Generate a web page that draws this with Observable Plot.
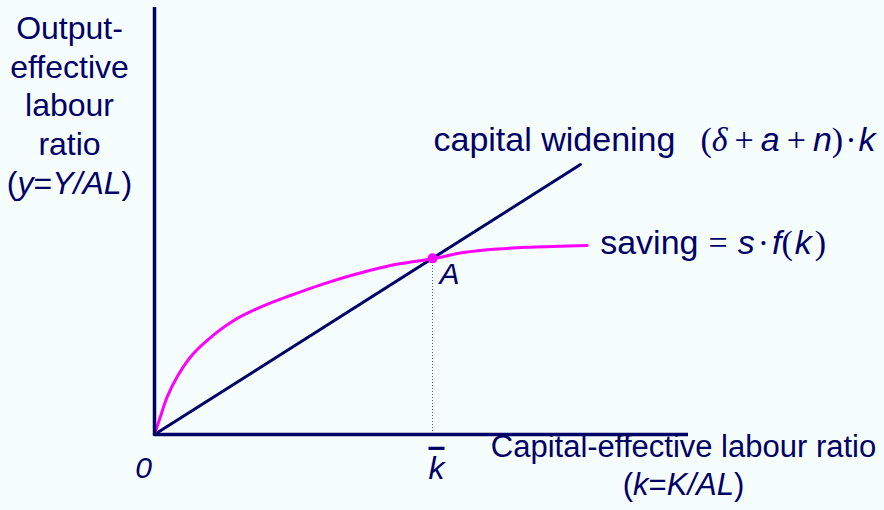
<!DOCTYPE html>
<html>
<head>
<meta charset="utf-8">
<script src="https://cdn.jsdelivr.net/npm/d3@7"></script>
<script src="https://cdn.jsdelivr.net/npm/@observablehq/plot@0.6"></script>
<style>
  html, body { margin: 0; padding: 0; background: #f6fdfd; }
  #chart { width: 884px; height: 510px; }
</style>
</head>
<body>
<div id="chart"></div>
<script>
// ---- data (k = capital per effective worker, y = output per effective worker)
const kDomain = [0, 10];
const yDomain = [0, 10];

// saving curve s·f(k)
const savingK = [0, 0.112, 0.238, 0.425, 0.674, 0.987, 1.485, 1.985, 2.547, 3.170, 3.796, 4.419, 5.200, 5.787, 6.418, 7.041, 8.103];
const savingY = [0, 0.420, 0.880, 1.350, 1.815, 2.205, 2.670, 2.981, 3.255, 3.529, 3.763, 3.958, 4.115, 4.262, 4.345, 4.386, 4.426];

// capital widening line (δ+a+n)·k
const widenK = [0, 7.977];
const widenY = [0, 6.323];

// steady state A
const kBar = 5.206;
const yA = 4.125;

// labels
const yTitleLines = ["Output-", "effective", "labour", "ratio", "(y=Y/AL)"];
const xTitleLine1 = "Capital-effective labour ratio";
const xTitleLine2 = "(k=K/AL)";
const widenLabel = "capital widening";
const widenMath = "(δ+a+n)·k";
const savingLabel = "saving=s·f(k)";
const pointLabel = "A";
const originLabel = "0";
const kBarLabel = "k";

const navy = "#000066";
const magenta = "#ff00ff";
const sans = "'Liberation Sans', Arial, sans-serif";
const serif = "'Liberation Serif', 'Times New Roman', serif";

const savingData = savingK.map((k, i) => ({k, y: savingY[i]}));
const widenData = widenK.map((k, i) => ({k, y: widenY[i]}));
const pointA = [{k: kBar, y: yA}];

const chart = Plot.plot({
  width: 884,
  height: 510,
  marginLeft: 154,
  marginRight: 196,
  marginTop: 7,
  marginBottom: 76,
  x: {domain: kDomain, axis: null},
  y: {domain: yDomain, axis: null},
  style: {background: "#f6fdfd", fontFamily: sans, color: navy, overflow: "visible"},
  marks: [
    Plot.ruleX([kBar], {y1: 0, y2: yA, stroke: "#5a5ab0", strokeWidth: 1, strokeDasharray: "1,2"}),
    Plot.line(widenData, {x: "k", y: "y", stroke: navy, strokeWidth: 3}),
    Plot.line(savingData, {x: "k", y: "y", stroke: magenta, strokeWidth: 3, curve: "catmull-rom"}),
    Plot.ruleY([0], {stroke: navy, strokeWidth: 3.5}),
    Plot.ruleX([0], {stroke: navy, strokeWidth: 3.5, y1: -0.04, y2: yDomain[1]}),
    Plot.dot(pointA, {x: "k", y: "y", r: 5, fill: magenta}),
    // annotations
    Plot.text([widenData[1]], {x: "k", y: "y", text: () => widenLabel, textAnchor: "start", dx: -147, dy: -24, fontSize: 34, fill: navy}),
    Plot.text([widenData[1]], {x: "k", y: "y", text: () => widenMath, textAnchor: "start", dx: 120, dy: -24, fontSize: 34, fill: navy}),
    Plot.text([savingData[savingData.length - 1]], {x: "k", y: "y", text: () => savingLabel, textAnchor: "start", dx: 13, dy: -2, fontSize: 34, fill: navy}),
    Plot.text(pointA, {x: "k", y: "y", text: () => pointLabel, textAnchor: "start", dx: 7, dy: 16, fontSize: 30, fontStyle: "italic", fill: navy}),
    Plot.text([{k: 0, y: 0}], {x: "k", y: "y", text: () => originLabel, dx: -11, dy: 34, fontSize: 30, fontStyle: "italic", fill: navy}),
    Plot.text([{k: kBar, y: 0}], {x: "k", y: "y", text: () => kBarLabel, dx: 4, dy: 34, fontSize: 32, fontStyle: "italic", fill: navy}),
    Plot.text([xTitleLine1], {frameAnchor: "bottom-right", textAnchor: "middle", dx: -5, dy: 22, fontSize: 31, fill: navy}),
    Plot.text([xTitleLine2], {frameAnchor: "bottom-right", textAnchor: "middle", dx: -5, dy: 60, fontSize: 31, fill: navy}),
    Plot.text([yTitleLines.join("\n")], {frameAnchor: "top-left", textAnchor: "middle", lineAnchor: "top", lineHeight: 1.21, dx: -85, dy: 4, fontSize: 32, fill: navy})
  ]
});

document.getElementById("chart").appendChild(chart);

// ---- rich text (mixed italic / serif glyphs) on existing label elements
function richify(plain, parts, selector = "text, tspan") {
  d3.select(chart).selectAll(selector)
    .filter(function () { return this.textContent === plain && this.children.length === 0; })
    .each(function () {
      const t = d3.select(this);
      t.text(null);
      for (const p of parts) {
        const s = t.append("tspan").text(p.t);
        if (p.f) s.attr("font-family", p.f);
        if (p.i) s.attr("font-style", "italic");
        if (p.dx) s.attr("dx", p.dx);
      }
    });
}
richify(widenMath, [
  {t: "(", f: serif}, {t: "δ", f: serif, i: true}, {t: "+", f: serif, dx: 7},
  {t: "a", i: true, dx: 7}, {t: "+", f: serif, dx: 7}, {t: "n", i: true, dx: 7},
  {t: ")", f: serif}, {t: "·", f: serif, dx: 2}, {t: "k", i: true, dx: 2}
]);
richify(savingLabel, [
  {t: "saving"}, {t: "=", f: serif, dx: 10}, {t: "s", i: true, dx: 10}, {t: "·", f: serif, dx: 3},
  {t: "f", i: true, dx: 3}, {t: "(", f: serif}, {t: "k", i: true, dx: 2}, {t: ")", f: serif, dx: 3}
]);
richify(xTitleLine2, [
  {t: "("}, {t: "k", i: true}, {t: "="}, {t: "K/AL", i: true}, {t: ")"}
]);
richify("(y=Y/AL)", [
  {t: "("}, {t: "y", i: true}, {t: "="}, {t: "Y/AL", i: true}, {t: ")"}
]);
// overline on k-bar
d3.select(chart).selectAll("text")
  .filter(function () { return this.textContent === kBarLabel; })
  .style("text-decoration", "overline");
</script>
</body>
</html>
